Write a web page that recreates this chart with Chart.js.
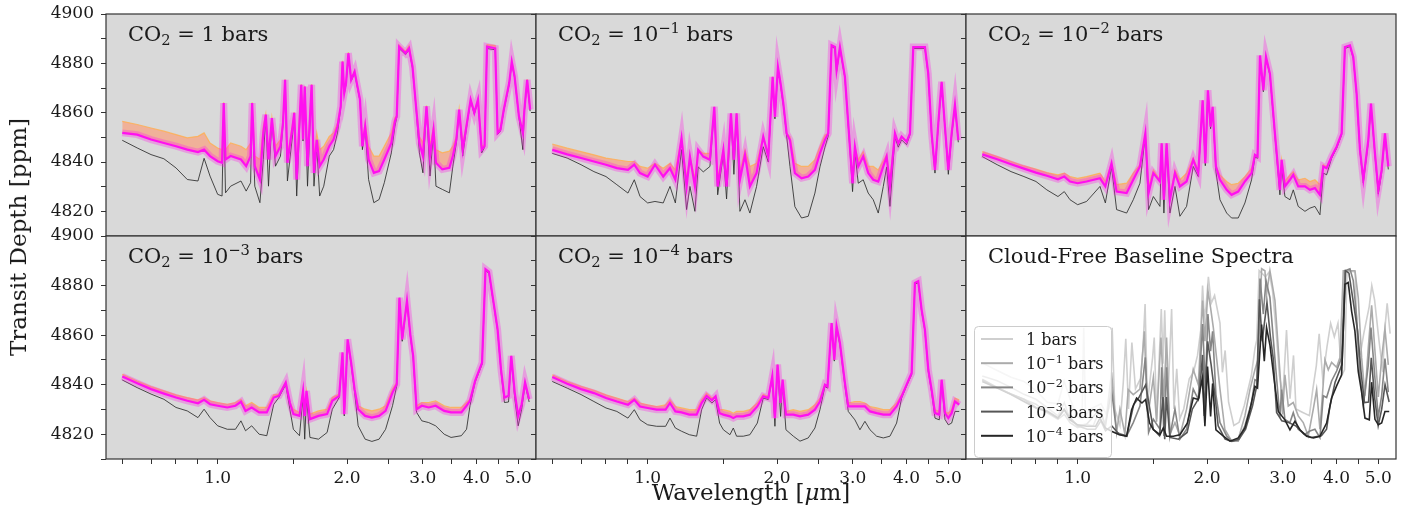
<!DOCTYPE html>
<html lang="en">
<head>
<meta charset="UTF-8">
<script src="https://cdn.jsdelivr.net/npm/chart.js"></script>
<title>Transit spectra</title>
<style>
  body { margin: 0; background: #fff; }
  #fig { position: relative; width: 1408px; height: 508px; overflow: hidden;
         font-family: 'DejaVu Serif', serif; color: #1a1a1a; }
  #fig canvas { position: absolute; }
  .ylab { position: absolute; left: 18px; top: 237px; transform: translate(-50%, -50%) rotate(-90deg);
          font-size: 23px; white-space: nowrap; z-index: 5; }
  .xlab { position: absolute; left: 751px; top: 492px; transform: translate(-50%, -50%);
          font-size: 23px; white-space: nowrap; z-index: 5; }
</style>
</head>
<body>
<div id="fig">
  <div class="ylab">Transit Depth [ppm]</div>
  <div class="xlab">Wavelength [<i>μ</i>m]</div>
</div>
<script>
// ---- data (um, ppm) ----
const co2Levels = ['1', '−1', '−2', '−3', '−4'];   // exponent of 10 (first one is plain "1")
const xTickVals = [0.6, 0.7, 0.8, 0.9, 1, 1.5, 2, 2.5, 3, 3.5, 4, 4.5, 5];
const xMajorTicks = [1, 2, 3, 4, 5];
const yMin = 4810, yMax = 4900;

// CO2 = 1 bar
const w1 = [0.60,0.65,0.70,0.75,0.80,0.85,0.90,0.93,0.96,1.00,
  1.024,1.033,1.043,1.072,1.133,1.165,1.193,1.203,1.22,1.254,
  1.277,1.294,1.313,1.337,1.363,1.40,1.419,1.435,1.453,1.494,
  1.507,1.527,1.565,1.58,1.594,1.618,1.654,1.675,1.70,1.727,
  1.765,1.818,1.86,1.90,1.933,1.952,1.97,1.989,2.014,2.044,
  2.082,2.143,2.171,2.203,2.244,2.308,2.374,2.441,2.535,2.584,
  2.609,2.643,2.735,2.787,2.839,2.893,2.946,3.002,3.06,3.118,
  3.177,3.219,3.33,3.459,3.524,3.59,3.645,3.715,3.80,3.876,
  3.953,4.031,4.113,4.176,4.231,4.421,4.478,4.546,4.628,4.765,
  4.831,4.904,5.02,5.126,5.169,5.246,5.33];
const base1 = [4848.8,4845.7,4843.0,4841.3,4837.6,4832.9,4832.3,4841.5,4834.3,4826.9,
  4826.2,4863.0,4827.5,4830.2,4832.3,4828.2,4831.6,4863.0,4830.2,4823.5,
  4841.0,4858.5,4830.2,4857.0,4838.3,4842.4,4855.0,4872.5,4832.3,4851.0,
  4859.0,4826.2,4870.5,4848.5,4870.0,4830.2,4870.5,4830.2,4846.4,4826.2,
  4830.2,4842.4,4845.0,4851.8,4862.0,4880.0,4867.5,4871.5,4883.5,4872.8,
  4876.0,4864.8,4845.0,4853.8,4832.9,4823.5,4824.8,4831.6,4843.7,4854.5,
  4858.0,4886.0,4883.5,4885.5,4878.0,4862.0,4843.7,4835.6,4862.0,4834.3,
  4851.8,4830.2,4828.9,4827.5,4838.3,4847.7,4860.5,4842.4,4855.2,4864.8,
  4859.4,4864.8,4843.7,4846.0,4886.0,4885.5,4851.2,4852.5,4860.6,4871.5,
  4880.0,4874.2,4858.0,4845.0,4860.6,4872.8,4860.6];
const core1 = [4851.8,4851.1,4849.1,4847.7,4846.4,4845.0,4844.0,4845.0,4842.4,4840.3,
  4839.7,4863.9,4841.0,4842.4,4841.0,4838.3,4842.4,4863.9,4838.3,4832.9,
  4851.8,4859.2,4841.0,4857.8,4842.4,4846.4,4855.8,4873.3,4839.7,4854.5,
  4859.9,4832.9,4871.3,4849.1,4870.6,4838.3,4871.3,4835.6,4849.0,4838.3,
  4841.0,4846.4,4849.1,4854.5,4862.6,4880.7,4868.0,4872.0,4884.1,4873.3,
  4876.7,4865.3,4846.4,4854.5,4841.0,4835.6,4836.3,4841.0,4847.7,4856.5,
  4858.5,4886.8,4884.1,4886.1,4878.7,4862.6,4847.7,4842.4,4862.6,4842.4,
  4853.0,4839.7,4837.0,4837.6,4842.4,4849.0,4861.2,4845.0,4855.8,4865.3,
  4859.9,4865.3,4845.0,4846.4,4886.8,4886.1,4851.8,4853.1,4861.2,4872.0,
  4880.7,4874.7,4858.5,4851.8,4861.2,4873.3,4861.2];
const top1 = [4856.5,4855.2,4853.8,4852.5,4851.1,4849.8,4850.4,4851.8,4847.7,4845.7,
  4845.0,4864.2,4845.0,4847.7,4846.4,4845.0,4847.7,4864.2,4842.4,4841.0,
  4854.5,4859.5,4843.7,4858.0,4846.4,4849.1,4856.0,4873.5,4842.4,4855.8,
  4860.2,4838.3,4871.5,4851.0,4870.8,4842.4,4871.5,4841.0,4851.8,4845.0,
  4846.4,4850.4,4851.8,4855.8,4862.8,4881.0,4868.5,4872.3,4884.5,4873.6,
  4877.0,4865.6,4848.0,4856.0,4846.4,4842.4,4842.4,4846.4,4851.8,4858.0,
  4858.8,4887.5,4884.8,4887.2,4879.2,4863.0,4850.4,4847.7,4862.9,4846.4,
  4854.5,4845.0,4843.7,4844.4,4846.4,4850.4,4861.5,4847.7,4856.2,4865.6,
  4860.2,4865.6,4846.4,4847.0,4887.6,4887.2,4852.5,4854.0,4861.5,4872.3,
  4881.0,4875.0,4859.0,4852.5,4861.5,4873.6,4861.5];

// CO2 = 1e-1 bar
const w2 = [0.600,0.650,0.700,0.750,0.800,0.848,0.900,0.931,0.960,1.000,
  1.040,1.087,1.127,1.160,1.199,1.232,1.254,1.288,1.311,1.347,
  1.396,1.429,1.455,1.500,1.526,1.562,1.587,1.610,1.639,1.684,
  1.729,1.792,1.857,1.908,1.953,1.977,2.009,2.038,2.068,2.105,
  2.143,2.200,2.280,2.363,2.449,2.516,2.584,2.630,2.678,2.726,
  2.750,2.800,2.876,2.954,2.996,3.034,3.089,3.172,3.258,3.347,
  3.438,3.532,3.596,3.660,3.760,3.827,3.896,4.002,4.074,4.147,
  4.414,4.494,4.575,4.658,4.742,4.827,4.914,5.003,5.093,5.184,
  5.278];
const top2 = [4847.3,4845.6,4844.2,4842.9,4841.6,4840.9,4840.2,4840.2,4838.2,4837.5,
  4839.5,4837.5,4839.5,4836.8,4849.6,4833.4,4842.2,4833.4,4845.0,4843.5,
  4843.5,4862.4,4833.4,4845.0,4833.4,4859.7,4842.2,4859.7,4836.0,4845.0,
  4838.2,4839.5,4850.3,4843.0,4874.5,4858.3,4878.5,4871.8,4863.7,4851.6,
  4850.3,4839.5,4838.2,4838.2,4840.9,4846.2,4850.9,4851.6,4887.3,4886.6,
  4877.2,4886.6,4874.5,4846.2,4833.4,4846.2,4841.0,4844.2,4838.2,4838.2,
  4836.8,4840.5,4843.0,4833.4,4851.6,4847.6,4850.3,4848.2,4851.6,4886.6,
  4886.6,4875.8,4851.6,4836.8,4855.7,4872.5,4854.3,4836.8,4851.6,4863.1,
  4848.9];
const core2 = [4844.9,4843.1,4841.6,4840.2,4838.9,4837.5,4836.8,4838.9,4835.5,4834.1,
  4838.9,4834.1,4837.5,4832.8,4849.6,4830.1,4842.2,4830.1,4844.9,4842.2,
  4840.9,4862.4,4830.1,4844.9,4830.1,4859.7,4840.9,4859.7,4832.8,4842.9,
  4830.1,4835.5,4850.3,4842.2,4874.5,4858.3,4878.5,4871.8,4863.7,4851.6,
  4848.9,4835.5,4833.4,4834.1,4836.8,4843.5,4848.9,4851.6,4887.3,4886.6,
  4877.2,4886.6,4874.5,4846.2,4831.4,4846.2,4838.2,4842.2,4835.5,4832.8,
  4832.1,4838.2,4842.2,4830.1,4851.6,4847.6,4850.3,4848.2,4851.6,4886.6,
  4886.6,4875.8,4851.6,4836.8,4855.7,4872.5,4854.3,4836.8,4851.6,4863.1,
  4848.9];
const base2 = [4843.5,4841.6,4838.9,4836.1,4834.1,4830.8,4827.4,4832.8,4826.0,4823.4,
  4824.0,4823.4,4830.1,4823.4,4845.0,4820.7,4830.1,4820.0,4838.0,4836.0,
  4838.2,4861.5,4826.7,4843.0,4825.0,4859.0,4835.0,4859.0,4820.0,4824.7,
  4819.3,4830.1,4846.2,4840.0,4874.0,4857.5,4878.0,4871.0,4863.0,4850.5,
  4838.2,4821.9,4817.3,4818.0,4827.4,4838.0,4846.0,4850.5,4886.8,4886.0,
  4876.5,4886.0,4874.0,4845.0,4828.0,4844.0,4831.4,4832.8,4827.4,4824.7,
  4819.3,4830.1,4838.0,4822.0,4850.0,4846.0,4849.0,4847.0,4851.0,4886.0,
  4886.0,4875.0,4851.0,4835.5,4855.0,4872.0,4853.5,4835.0,4850.5,4862.5,
  4848.0];

// CO2 = 1e-2 bar
const w3 = [0.600,0.650,0.700,0.750,0.800,0.848,0.900,0.931,0.960,1.000,
  1.049,1.127,1.160,1.199,1.232,1.300,1.347,1.396,1.437,1.462,
  1.500,1.554,1.568,1.587,1.610,1.639,1.684,1.729,1.792,1.857,
  1.908,1.953,1.981,2.009,2.038,2.060,2.097,2.143,2.221,2.280,
  2.363,2.449,2.538,2.584,2.620,2.655,2.703,2.742,2.800,2.876,
  2.954,2.981,3.034,3.117,3.173,3.258,3.378,3.469,3.563,3.660,
  3.726,3.793,3.896,4.002,4.111,4.184,4.298,4.375,4.454,4.535,
  4.617,4.742,4.810,4.914,5.003,5.093,5.184,5.278];
const top3 = [4844.2,4842.2,4840.2,4838.4,4837.1,4835.7,4834.8,4835.5,4834.1,4833.4,
  4834.1,4835.5,4832.1,4839.5,4830.8,4831.4,4835.5,4838.9,4851.6,4830.1,
  4836.8,4832.8,4847.6,4826.0,4847.6,4826.0,4836.8,4832.8,4835.5,4841.6,
  4836.8,4865.0,4839.5,4869.1,4854.3,4862.4,4838.2,4834.8,4832.1,4830.8,
  4831.4,4834.1,4837.5,4842.9,4842.2,4883.2,4869.1,4882.6,4875.8,4851.6,
  4830.8,4840.9,4832.1,4834.8,4836.1,4832.8,4833.4,4832.1,4832.8,4830.8,
  4838.9,4838.2,4842.2,4846.2,4851.6,4886.6,4887.3,4882.6,4867.8,4844.9,
  4832.8,4848.9,4863.7,4843.5,4828.7,4836.8,4851.6,4838.2];
const core3 = [4843.1,4841.1,4839.1,4837.3,4835.7,4834.4,4833.0,4834.1,4832.1,4831.4,
  4832.1,4833.4,4830.1,4839.5,4828.0,4827.4,4832.8,4838.2,4851.6,4827.4,
  4835.5,4832.1,4847.6,4824.7,4847.6,4824.7,4835.5,4830.1,4832.1,4840.9,
  4835.5,4865.0,4839.5,4869.1,4854.3,4862.4,4838.2,4832.8,4828.7,4826.7,
  4828.0,4832.1,4835.5,4842.9,4842.2,4883.2,4869.1,4882.6,4875.8,4851.6,
  4828.7,4840.9,4830.1,4832.8,4834.8,4830.1,4830.1,4828.7,4829.4,4826.7,
  4838.2,4837.5,4842.2,4846.2,4851.6,4886.6,4887.3,4882.6,4867.8,4844.9,
  4832.8,4848.9,4863.7,4843.5,4828.7,4836.8,4851.6,4838.2];
const base3 = [4842.2,4838.9,4836.1,4834.1,4832.1,4828.7,4826.0,4828.0,4824.7,4822.7,
  4824.0,4830.1,4823.4,4838.0,4820.7,4819.3,4824.7,4831.4,4851.0,4820.7,
  4826.0,4822.0,4847.0,4819.3,4847.0,4819.3,4830.1,4818.0,4822.0,4838.2,
  4834.1,4864.5,4838.5,4868.5,4853.5,4861.5,4836.0,4824.7,4819.3,4817.3,
  4817.3,4823.4,4832.8,4842.0,4841.5,4882.8,4868.5,4882.0,4875.2,4850.5,
  4826.7,4838.0,4826.0,4824.7,4828.7,4822.0,4820.0,4821.3,4822.0,4818.6,
  4835.5,4834.8,4841.5,4845.5,4851.0,4886.0,4886.8,4882.0,4867.2,4844.0,
  4831.5,4848.0,4863.0,4842.5,4827.0,4835.5,4850.5,4837.0];

// CO2 = 1e-3 bar
const w4 = [0.600,0.650,0.700,0.750,0.800,0.850,0.900,0.930,0.960,1.000,
  1.053,1.100,1.133,1.161,1.200,1.249,1.301,1.350,1.388,1.440,
  1.472,1.500,1.550,1.580,1.594,1.609,1.639,1.716,1.797,1.848,
  1.917,1.952,1.970,2.006,2.044,2.082,2.122,2.203,2.284,2.374,
  2.458,2.551,2.609,2.647,2.686,2.756,2.807,2.849,2.902,2.984,
  3.096,3.213,3.364,3.490,3.688,3.792,3.862,3.970,4.120,4.197,
  4.275,4.370,4.477,4.560,4.645,4.748,4.818,4.908,5.000,5.093,
  5.187,5.302];
const top4 = [4844.2,4841.5,4839.2,4837.5,4835.9,4834.8,4833.9,4834.8,4833.5,4832.8,
  4832.1,4832.8,4834.1,4831.5,4832.8,4830.8,4830.8,4835.9,4836.2,4840.9,
  4832.8,4830.1,4828.8,4837.5,4828.8,4837.5,4828.1,4829.4,4830.1,4834.8,
  4836.2,4853.0,4828.1,4858.3,4848.9,4838.2,4831.5,4830.1,4829.4,4830.1,
  4831.5,4838.2,4840.9,4875.1,4858.3,4873.8,4860.0,4851.6,4831.5,4832.8,
  4832.8,4833.5,4831.5,4830.8,4830.8,4832.8,4834.1,4841.5,4848.9,4886.6,
  4885.5,4874.5,4862.4,4846.2,4834.8,4835.5,4851.6,4836.8,4827.4,4832.1,
  4840.9,4834.1];
const core4 = [4843.3,4840.6,4838.2,4836.4,4834.8,4833.5,4832.5,4833.9,4832.1,4831.5,
  4830.8,4831.5,4833.1,4829.4,4830.8,4828.8,4828.8,4834.8,4835.5,4840.9,
  4832.8,4828.1,4827.4,4837.5,4827.4,4837.5,4826.1,4827.4,4828.1,4833.5,
  4835.5,4853.0,4828.1,4858.3,4848.9,4838.2,4830.1,4827.4,4826.7,4827.4,
  4829.4,4836.8,4840.2,4875.1,4858.3,4873.8,4860.0,4851.6,4830.1,4831.5,
  4830.8,4831.5,4829.4,4828.8,4828.8,4831.5,4833.5,4841.5,4848.9,4886.6,
  4885.5,4874.5,4862.4,4846.2,4834.8,4835.5,4851.6,4836.8,4827.4,4832.1,
  4840.9,4834.1];
const base4 = [4841.9,4838.8,4836.2,4834.1,4830.8,4829.4,4826.7,4830.1,4826.7,4823.4,
  4822.0,4822.0,4825.4,4821.4,4823.4,4820.0,4819.4,4832.0,4834.8,4840.0,
  4830.1,4822.0,4819.4,4835.0,4818.0,4835.0,4818.7,4818.0,4820.7,4830.1,
  4834.8,4852.0,4827.4,4857.5,4848.0,4837.0,4823.4,4818.0,4817.1,4818.0,
  4822.0,4831.5,4839.5,4874.5,4857.5,4873.2,4859.3,4850.8,4828.8,4825.4,
  4824.7,4823.4,4820.0,4818.7,4819.4,4822.0,4831.5,4841.0,4848.2,4886.0,
  4885.0,4874.0,4861.8,4845.3,4832.8,4833.0,4850.8,4834.5,4823.4,4830.0,
  4840.0,4833.0];

// CO2 = 1e-4 bar
const w5 = [0.600,0.650,0.700,0.750,0.800,0.848,0.900,0.931,0.960,1.000,
  1.049,1.101,1.127,1.160,1.199,1.250,1.300,1.335,1.371,1.411,
  1.439,1.470,1.500,1.554,1.582,1.610,1.669,1.729,1.799,1.857,
  1.908,1.949,1.977,2.005,2.038,2.060,2.097,2.182,2.261,2.363,
  2.449,2.516,2.584,2.620,2.678,2.717,2.750,2.800,2.876,2.928,
  3.034,3.117,3.201,3.289,3.408,3.532,3.660,3.793,3.896,4.002,
  4.111,4.184,4.259,4.336,4.414,4.494,4.575,4.658,4.767,4.827,
  4.914,5.003,5.093,5.184,5.304];
const top5 = [4844.0,4841.3,4839.3,4837.7,4835.9,4834.6,4833.2,4834.6,4832.6,4831.9,
  4831.2,4831.9,4833.9,4831.2,4830.6,4829.9,4829.9,4833.9,4836.6,4834.6,
  4835.3,4829.9,4829.9,4829.2,4828.5,4829.2,4829.2,4829.9,4832.6,4836.0,
  4835.3,4843.4,4826.5,4848.1,4832.6,4842.0,4829.2,4829.9,4829.2,4829.9,
  4831.9,4834.6,4840.0,4839.3,4864.9,4850.1,4863.6,4856.8,4840.7,4832.6,
  4833.2,4833.2,4832.6,4831.2,4830.6,4829.9,4829.9,4832.6,4836.0,4840.0,
  4844.7,4881.1,4881.8,4870.3,4862.2,4846.1,4838.0,4829.9,4829.2,4842.0,
  4829.2,4828.5,4829.9,4834.6,4833.9];
const core5 = [4843.1,4840.4,4838.2,4836.6,4834.6,4833.2,4831.9,4833.9,4831.2,4830.6,
  4829.9,4829.9,4832.6,4829.2,4828.8,4827.9,4827.9,4832.6,4835.5,4833.7,
  4835.3,4828.5,4827.9,4827.2,4826.5,4827.2,4827.2,4827.9,4831.2,4835.3,
  4834.6,4843.4,4826.5,4848.1,4832.6,4842.0,4827.9,4827.9,4827.2,4827.9,
  4829.9,4833.2,4840.0,4839.3,4864.9,4850.1,4863.6,4856.8,4840.7,4831.2,
  4831.2,4831.2,4831.2,4829.2,4828.5,4827.9,4827.9,4831.2,4835.3,4840.0,
  4844.7,4881.1,4881.8,4870.3,4862.2,4846.1,4838.0,4828.5,4827.9,4842.0,
  4828.5,4826.5,4828.5,4833.2,4831.9];
const base5 = [4841.3,4838.6,4836.0,4833.2,4830.6,4829.2,4826.5,4829.9,4825.8,4823.8,
  4823.2,4823.2,4826.5,4822.5,4821.2,4819.8,4819.2,4829.9,4834.6,4832.6,
  4834.0,4824.5,4821.8,4819.8,4822.5,4819.2,4819.2,4819.8,4824.5,4834.6,
  4834.0,4842.5,4823.2,4847.3,4827.2,4840.5,4821.8,4819.2,4817.2,4818.5,
  4822.5,4829.9,4839.3,4838.6,4864.3,4849.5,4863.0,4856.0,4839.5,4829.2,
  4825.8,4821.8,4825.2,4821.8,4819.2,4818.5,4819.2,4824.5,4834.6,4839.5,
  4844.0,4880.5,4881.2,4869.7,4861.6,4845.3,4837.0,4826.5,4825.8,4841.0,
  4826.0,4823.8,4824.5,4829.2,4829.2];

const waves = [w1, w2, w3, w4, w5];
const bases = [base1, base2, base3, base4, base5];
const tops = [top1, top2, top3, top4, top5];
const cores = [core1, core2, core3, core4, core5];

// ---- styling ----
const FONT = 'DejaVu Serif';
const TXT = '#1a1a1a';
const baseGrays = ['#cfcfcf', '#ababab', '#868686', '#565656', '#262626'];

function pts(xs, ys) { return xs.map((x, i) => ({ x: x, y: ys[i] })); }

function co2Parts(i) {
  if (i === 0) return [['CO'], ['2', 'sub'], [' = 1 bars']];
  return [['CO'], ['2', 'sub'], [' = 10'], [co2Levels[i], 'sup'], [' bars']];
}
function barParts(i) {
  if (i === 0) return [['1 bars']];
  return [['10'], [co2Levels[i], 'sup'], [' bars']];
}

function drawRich(ctx, x, y, parts, size) {
  ctx.textBaseline = 'alphabetic';
  ctx.textAlign = 'left';
  for (const [t, mode] of parts) {
    const s = mode ? size * 0.7 : size;
    const dy = mode === 'sub' ? size * 0.2 : (mode === 'sup' ? -size * 0.4 : 0);
    ctx.font = s + 'px "' + FONT + '"';
    ctx.fillText(t, x, y + dy);
    x += ctx.measureText(t).width;
  }
}

const panelDeco = {
  id: 'panelDeco',
  beforeDraw(chart, args, opts) {
    const a = chart.chartArea, ctx = chart.ctx;
    ctx.save();
    ctx.fillStyle = opts.bg;
    ctx.fillRect(a.left, a.top, a.right - a.left, a.bottom - a.top);
    ctx.restore();
  },
  afterDraw(chart, args, opts) {
    const a = chart.chartArea, ctx = chart.ctx;
    ctx.save();
    // legend (baseline panel only)
    if (opts.legend) {
      const lx = a.left + 8, ly = a.top + 90, lw = 137, lh = 131;
      ctx.beginPath();
      ctx.roundRect(lx + 0.5, ly + 0.5, lw, lh, 4);
      ctx.fillStyle = 'rgba(255,255,255,0.8)';
      ctx.fill();
      ctx.strokeStyle = '#cccccc';
      ctx.lineWidth = 1;
      ctx.stroke();
      chart.data.datasets.forEach((ds, i) => {
        const ry = ly + 13 + i * 24.2;
        ctx.strokeStyle = ds.borderColor;
        ctx.lineWidth = 2;
        ctx.beginPath();
        ctx.moveTo(lx + 7, ry);
        ctx.lineTo(lx + 39, ry);
        ctx.stroke();
        ctx.fillStyle = TXT;
        drawRich(ctx, lx + 52, ry + 6, barParts(i), 16);
      });
    }
    // frame
    ctx.strokeStyle = '#333333';
    ctx.lineWidth = 1.2;
    ctx.strokeRect(a.left, a.top, a.right - a.left, a.bottom - a.top);
    // panel title
    ctx.fillStyle = TXT;
    drawRich(ctx, a.left + 22, a.top + 27, opts.title, 21);
    ctx.restore();
  }
};

// ---- layout of the 2x3 grid (page pixels) ----
const colLeft = [106, 536, 966];
const rowTop = [14, 236];
const rowH = [222, 223];
const PW = 430;

function makePanel(idx, datasets, title, bg, legend) {
  const row = Math.floor(idx / 3), col = idx % 3;
  const padL = col === 0 ? 106 : 22, padR = 22, padT = 22;
  const padB = row === 1 ? 49 : 22;
  const showX = row === 1, showY = col === 0;
  const cv = document.createElement('canvas');
  const W = padL + PW + padR, H = padT + rowH[row] + padB;
  cv.width = W; cv.height = H;
  cv.style.width = W + 'px'; cv.style.height = H + 'px';
  cv.style.left = (colLeft[col] - padL) + 'px';
  cv.style.top = (rowTop[row] - padT) + 'px';
  document.getElementById('fig').appendChild(cv);

  new Chart(cv, {
    type: 'line',
    data: { datasets: datasets },
    plugins: [panelDeco],
    options: {
      responsive: false,
      animation: false,
      events: [],
      layout: { padding: { left: 0, right: padR, top: padT, bottom: 0 } },
      elements: { point: { radius: 0 }, line: { tension: 0 } },
      plugins: {
        legend: { display: false },
        tooltip: { enabled: false },
        panelDeco: { bg: bg, title: title, legend: legend }
      },
      scales: {
        x: {
          type: 'logarithmic', min: 0.55, max: 5.5,
          afterBuildTicks: s => { s.ticks = xTickVals.map(v => ({ value: v })); },
          afterFit: s => { s.height = padB; s.paddingLeft = 0; s.paddingRight = 0; },
          border: { display: false },
          grid: { drawOnChartArea: false, drawTicks: showX, tickLength: 5, tickColor: '#333', tickWidth: 1 },
          ticks: {
            display: showX, autoSkip: false, maxRotation: 0, padding: 4,
            color: TXT, font: { family: FONT, size: 17 },
            callback: v => xMajorTicks.includes(v) ? v.toFixed(1) : ''
          }
        },
        y: {
          min: yMin, max: yMax,
          afterFit: s => { s.width = padL; s.paddingTop = 0; s.paddingBottom = 0; },
          border: { display: false },
          grid: { drawOnChartArea: false, tickLength: 5, tickColor: '#333', tickWidth: 1 },
          ticks: {
            display: showY, stepSize: 10, padding: 7,
            color: TXT, font: { family: FONT, size: 17 },
            callback: v => (v % 20 === 0 ? String(v) : '')
          }
        }
      }
    }
  });
}

// panels 1-5: cloudy spectra band + cloud-free baseline
for (let i = 0; i < 5; i++) {
  const ds = [
    { data: pts(waves[i], bases[i]), borderColor: 'rgba(45,45,45,0.85)', borderWidth: 1, order: 4, fill: false },
    { data: pts(waves[i], tops[i]), borderColor: 'rgba(255,175,80,0.8)', borderWidth: 1.2, order: 3,
      fill: '+1', backgroundColor: 'rgba(255,150,110,0.6)' },
    { data: pts(waves[i], cores[i]), borderColor: '#ff10f0', borderWidth: 2.2, order: 1, fill: false },
    { data: pts(waves[i], cores[i]), borderColor: 'rgba(255,40,230,0.33)', borderWidth: 7, order: 2, fill: false }
  ];
  makePanel(i, ds, co2Parts(i), '#d9d9d9', false);
}

// panel 6: all cloud-free baselines
const ds6 = bases.map((b, i) => ({
  data: pts(waves[i], b), borderColor: baseGrays[i], borderWidth: 1.6, order: 5 - i, fill: false
}));
makePanel(5, ds6, [['Cloud-Free Baseline Spectra']], '#ffffff', true);
</script>
</body>
</html>
